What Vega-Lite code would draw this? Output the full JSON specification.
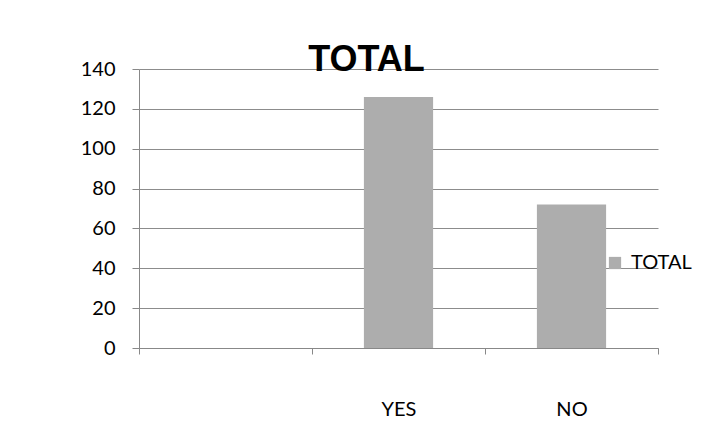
{
  "$schema": "https://vega.github.io/schema/vega-lite/v6.json",
  "autosize": "none",
  "padding": {"left": 139, "top": 69, "right": 48, "bottom": 81},
  "width": 519,
  "height": 279,
  "background": "white",
  "title": {
    "text": "TOTAL",
    "font": "Liberation Sans",
    "fontSize": 36,
    "fontWeight": "bold",
    "color": "black",
    "anchor": "middle",
    "baseline": "alphabetic",
    "dx": -32,
    "dy": 46,
    "offset": -2
  },
  "data": {
    "values": [
      {"answer": "YES", "total": 126},
      {"answer": "NO", "total": 72}
    ]
  },
  "mark": {"type": "bar", "width": {"band": 0.4}},
  "encoding": {
    "x": {
      "field": "answer",
      "type": "nominal",
      "sort": null,
      "scale": {"domain": ["", "YES", "NO"], "paddingInner": 0, "paddingOuter": 0},
      "axis": {
        "title": null,
        "labelAngle": 0,
        "tickBand": "extent",
        "tickSize": 6,
        "tickColor": "#888888",
        "domainColor": "#888888",
        "labelFont": "Lato",
        "labelFontSize": 20,
        "labelColor": "black",
        "labelPadding": 45,
        "grid": false
      }
    },
    "y": {
      "field": "total",
      "type": "quantitative",
      "scale": {"domain": [0, 140], "nice": false},
      "axis": {
        "title": null,
        "values": [0, 20, 40, 60, 80, 100, 120, 140],
        "tickSize": 7,
        "tickColor": "#888888",
        "domainColor": "#888888",
        "gridColor": "#8c8c8c",
        "gridOpacity": 1,
        "labelFont": "Lato",
        "labelFontSize": 20,
        "labelColor": "black",
        "labelPadding": 17
      }
    },
    "color": {
      "datum": "TOTAL",
      "scale": {"range": ["#adadad"]},
      "legend": {
        "title": null,
        "orient": "none",
        "legendX": 466,
        "legendY": 184,
        "symbolType": "square",
        "symbolSize": 150,
        "symbolStrokeWidth": 0,
        "symbolOpacity": 1,
        "labelFont": "Lato",
        "labelFontSize": 20,
        "labelColor": "black",
        "labelOffset": 6,
        "padding": 0
      }
    }
  },
  "config": {
    "view": {"stroke": null}
  }
}
